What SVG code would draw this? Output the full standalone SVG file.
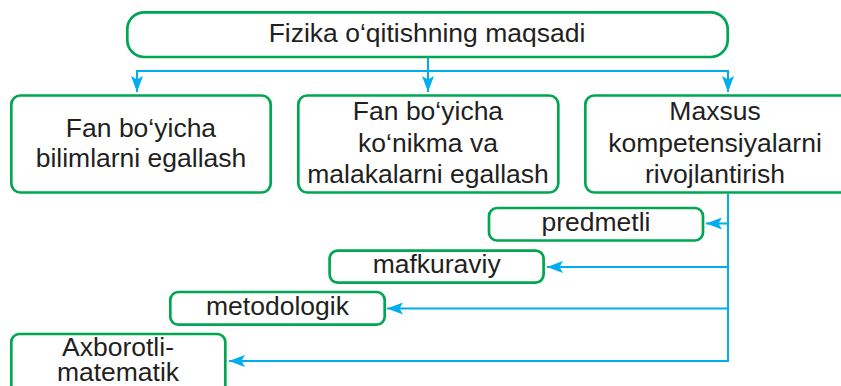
<svg xmlns="http://www.w3.org/2000/svg" width="841" height="386" viewBox="0 0 841 386">
  <style>
    .box { fill: #ffffff; stroke: #00A651; stroke-width: 2.7; }
    .lbl { font-family: "Liberation Sans", Arial, sans-serif; font-size: 26.5px; fill: #231F20; text-anchor: middle; }
    .con { fill: none; stroke: #00AEEF; stroke-width: 2; }
  </style>
  <defs>
    <marker id="arr" viewBox="0 0 16 12" refX="16" refY="6" markerWidth="16" markerHeight="12" markerUnits="userSpaceOnUse" orient="auto">
      <path d="M0,0 L16,6 L0,12 L3.5,6 Z" fill="#00AEEF"/>
    </marker>
  </defs>
  <rect width="841" height="386" fill="#ffffff"/>

  <g id="connectors">
    <path class="con" d="M428,58 V71"/>
    <path class="con" d="M137,71 H728"/>
    <path class="con" d="M137,70 V92" marker-end="url(#arr)"/>
    <path class="con" d="M428,70 V92" marker-end="url(#arr)"/>
    <path class="con" d="M728,70 V92" marker-end="url(#arr)"/>
    <path class="con" d="M728,194 V361"/>
    <path class="con" d="M729,223.5 H706" marker-end="url(#arr)"/>
    <path class="con" d="M729,267 H547" marker-end="url(#arr)"/>
    <path class="con" d="M729,308.5 H387" marker-end="url(#arr)"/>
    <path class="con" d="M729,361 H229" marker-end="url(#arr)"/>
  </g>

  <g id="node-root">
    <rect class="box" x="127.3" y="12.3" width="600.4" height="44.7" rx="17"/>
    <text class="lbl" x="427" y="41.5">Fizika o‘qitishning maqsadi</text>
  </g>

  <g id="node-bilim">
    <rect class="box" x="11.3" y="95.5" width="259.4" height="97" rx="9"/>
    <text class="lbl" x="141" y="136.5">Fan bo‘yicha</text>
    <text class="lbl" x="141" y="166.7">bilimlarni egallash</text>
  </g>

  <g id="node-konikma">
    <rect class="box" x="298.3" y="95.5" width="260" height="97" rx="9"/>
    <text class="lbl" x="428" y="120">Fan bo‘yicha</text>
    <text class="lbl" x="428" y="151.5">ko‘nikma va</text>
    <text class="lbl" x="428" y="183">malakalarni egallash</text>
  </g>

  <g id="node-kompetensiya">
    <rect class="box" x="585.3" y="95.5" width="270" height="97" rx="9"/>
    <text class="lbl" x="715" y="119.5">Maxsus</text>
    <text class="lbl" x="715" y="151.5">kompetensiyalarni</text>
    <text class="lbl" x="715" y="183">rivojlantirish</text>
  </g>

  <g id="node-predmetli">
    <rect class="box" x="489" y="208" width="214" height="32.5" rx="8"/>
    <text class="lbl" x="596" y="230.5">predmetli</text>
  </g>

  <g id="node-mafkuraviy">
    <rect class="box" x="329.6" y="250.6" width="214" height="32" rx="8"/>
    <text class="lbl" x="436.7" y="272.5">mafkuraviy</text>
  </g>

  <g id="node-metodologik">
    <rect class="box" x="170.3" y="292" width="214.4" height="32.7" rx="8"/>
    <text class="lbl" x="277.5" y="315">metodologik</text>
  </g>

  <g id="node-axborotli">
    <rect class="box" x="11.3" y="334" width="214" height="60" rx="8"/>
    <text class="lbl" x="118" y="355.5">Axborotli-</text>
    <text class="lbl" x="118" y="381">matematik</text>
  </g>
</svg>
